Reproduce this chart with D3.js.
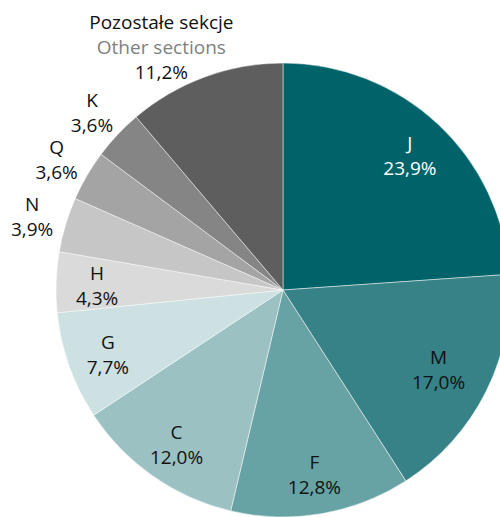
<!DOCTYPE html>
<html>
<head>
<meta charset="utf-8">
<script src="https://cdn.jsdelivr.net/npm/d3@7"></script>
<style>
  html, body { margin: 0; padding: 0; background: #fff; }
  svg { display: block; }
</style>
</head>
<body>
<div id="chart"></div>
<script>
// sections of the economy, clockwise from 12 o'clock
const sections = ['J', 'M', 'F', 'C', 'G', 'H', 'N', 'Q', 'K', 'other'];
const shares = [23.9, 17.0, 12.8, 12.0, 7.7, 4.3, 3.9, 3.6, 3.6, 11.2];
const shareLabels = ['23,9%', '17,0%', '12,8%', '12,0%', '7,7%', '4,3%', '3,9%', '3,6%', '3,6%', '11,2%'];
const otherTitle = ['Pozostałe sekcje', 'Other sections'];

const colors = ['#00636a', '#368286', '#67a2a5', '#9bc1c3', '#cde0e2',
                '#dadada', '#c6c6c6', '#a4a4a4', '#858585', '#5e5e5e'];
const outside = ['N', 'Q', 'K', 'other'];

const W = 500, H = 517;
const cx = 283, cy = 290, R = 227;
const lineH = 25;

const svg = d3.select('#chart').append('svg')
    .attr('width', W)
    .attr('height', H)
    .style('font-family', '"Open Sans", sans-serif')
    .style('font-size', '19px');

const data = sections.map((s, i) => ({ name: s, value: shares[i], label: shareLabels[i], color: colors[i] }));

const pie = d3.pie().value(d => d.value).sort(null);
const arcs = pie(data);

const arc = d3.arc().innerRadius(0).outerRadius(R);
const inArc = d3.arc().innerRadius(186).outerRadius(186);
const outArc = d3.arc().innerRadius(262).outerRadius(262);

const g = svg.append('g').attr('transform', `translate(${cx},${cy})`);

g.selectAll('path.slice')
    .data(arcs)
    .enter().append('path')
    .attr('class', 'slice')
    .attr('d', arc)
    .attr('fill', d => d.data.color)
    .attr('stroke', '#ffffff')
    .attr('stroke-opacity', 0.6)
    .attr('stroke-width', 0.8);

const labels = g.selectAll('g.label')
    .data(arcs)
    .enter().append('g')
    .attr('class', 'label')
    .attr('transform', d => {
        let p;
        if (d.data.name === 'other') {
            // nudge the three-line block toward the left like the original
            const a = (d.startAngle + d.endAngle) / 2 - 0.11;
            p = [Math.sin(a) * 273, -Math.cos(a) * 273];
        } else if (d.data.name === 'M') {
            p = d3.arc().innerRadius(174).outerRadius(174).centroid(d);
        } else if (outside.includes(d.data.name)) {
            p = outArc.centroid(d);
        } else {
            p = inArc.centroid(d);
        }
        return `translate(${p[0]},${p[1] + 2})`;
    });

labels.each(function(d) {
    const sel = d3.select(this);
    const lines = d.data.name === 'other'
        ? [{ t: otherTitle[0], c: '#111111' }, { t: otherTitle[1], c: '#7f7f7f' }, { t: d.data.label, c: '#111111' }]
        : [{ t: d.data.name, c: null }, { t: d.data.label, c: null }];
    const txtColor = d.data.name === 'J' ? '#ffffff' : '#111111';
    const y0 = -(lines.length - 1) * lineH / 2;
    lines.forEach((l, i) => {
        sel.append('text')
            .attr('text-anchor', 'middle')
            .attr('dy', '0.35em')
            .attr('y', y0 + i * lineH)
            .attr('fill', l.c || txtColor)
            .text(l.t);
    });
});
</script>
</body>
</html>
